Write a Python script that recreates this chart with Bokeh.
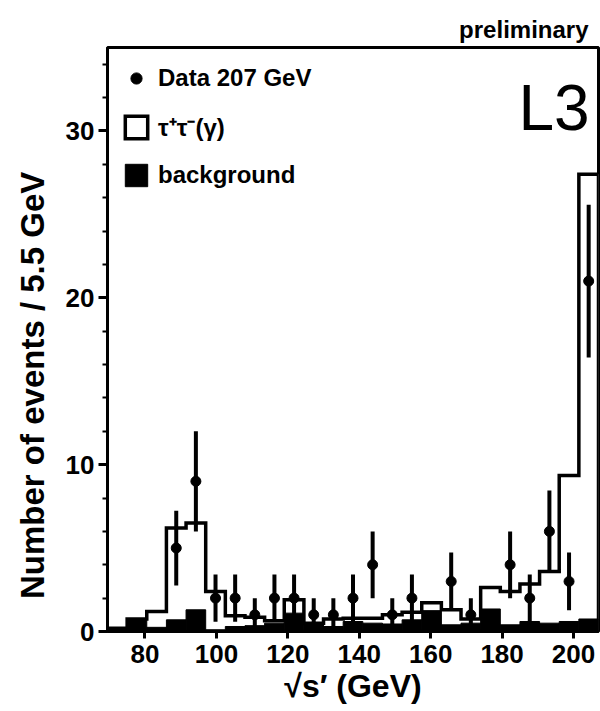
from bokeh.plotting import figure
from bokeh.models import Legend, LegendItem, SingleIntervalTicker, Label
from bokeh.embed import file_html
from bokeh.resources import INLINE

# ---- data ----
bin_edges = [69.5, 75.0, 80.5, 86.0, 91.5, 97.0, 102.5, 108.0, 113.5, 119.0,
             124.5, 130.0, 135.5, 141.0, 146.5, 152.0, 157.5, 163.0, 168.5,
             174.0, 179.5, 185.0, 190.5, 196.0, 201.5, 207.0]
# total expectation tau+tau-(gamma) + background (open histogram)
mc_total = [0.2, 0.75, 1.2, 6.2, 6.5, 2.4, 0.95, 0.85, 0.65, 1.9,
            0.5, 0.75, 0.8, 0.8, 1.0, 1.15, 1.73, 1.3, 0.75, 2.64,
            2.4, 2.84, 3.6, 9.35, 27.4]
# background (filled histogram)
background = [0.2, 0.75, 0.25, 0.7, 1.3, 0.1, 0.3, 0.35, 0.5, 1.1,
              0.4, 0.3, 0.6, 0.5, 0.45, 0.7, 1.25, 0.4, 0.5, 1.35,
              0.4, 0.6, 0.5, 0.6, 0.75]
# data points
data_x = [88.75, 94.25, 99.75, 105.25, 110.75, 116.25, 121.75, 127.25, 132.75,
          138.25, 143.75, 149.25, 154.75, 165.75, 171.25, 182.25, 187.75,
          193.25, 198.75, 204.25]
data_n = [5, 9, 2, 2, 1, 2, 2, 1, 1, 2, 4, 1, 2, 3, 1, 4, 2, 6, 3, 21]
data_err = [2.24, 3.0, 1.41, 1.41, 1.0, 1.41, 1.41, 1.0, 1.0, 1.41, 2.0, 1.0,
            1.41, 1.73, 1.0, 2.0, 1.41, 2.45, 1.73, 4.58]

x_ticks_interval = 20
y_ticks_interval = 10

FONT = "Liberation Sans"

p = figure(width=600, height=711, x_range=(69.5, 207.0), y_range=(0, 35),
           output_backend="svg", toolbar_location=None,
           min_border_left=107, min_border_right=2, min_border_top=47,
           min_border_bottom=80, background_fill_color="white",
           border_fill_color="white")
p.xgrid.visible = False
p.ygrid.visible = False
p.outline_line_color = "black"
p.outline_line_width = 3
p.outline_line_alpha = 1.0

# title "preliminary"
p.title.text = "preliminary"
p.title.align = "right"
p.title.text_font = FONT
p.title.text_font_size = "24px"
p.title.text_font_style = "bold"
p.title.text_color = "black"
p.title.offset = 10
p.title.standoff = 9

# open histogram as a patch
px = [bin_edges[0]]
py = [0.0]
for i, h in enumerate(mc_total):
    px += [bin_edges[i], bin_edges[i + 1]]
    py += [h, h]
px.append(bin_edges[-1])
py.append(0.0)
r_mc = p.patch(px, py, fill_color="white", line_color="black", line_width=3.5,
               line_join="miter")

# background filled histogram
r_bg = p.quad(left=bin_edges[:-1], right=bin_edges[1:], bottom=0, top=background,
              fill_color="black", line_color="black", line_width=1)

# data with error bars
lo = [n - e for n, e in zip(data_n, data_err)]
hi = [n + e for n, e in zip(data_n, data_err)]
p.segment(x0=data_x, y0=lo, x1=data_x, y1=hi, line_color="black", line_width=4)
r_data = p.scatter(data_x, data_n, size=10, marker="circle", fill_color="black",
                   line_color="black")

# axes
for ax in (p.xaxis[0], p.yaxis[0]):
    ax.axis_line_width = 3
    ax.major_tick_line_width = 3
    ax.minor_tick_line_width = 2
    ax.major_tick_in = 0
    ax.minor_tick_in = 0
    ax.major_label_text_font = FONT
    ax.major_label_text_font_style = "bold"
    ax.major_label_text_font_size = "26px"
    ax.major_label_text_color = "black"
    ax.axis_label_text_font = FONT
    ax.axis_label_text_font_style = "bold"
    ax.axis_label_text_color = "black"

p.xaxis.ticker = SingleIntervalTicker(interval=x_ticks_interval, num_minor_ticks=0)
p.yaxis.ticker = SingleIntervalTicker(interval=y_ticks_interval, num_minor_ticks=5)
p.xaxis.major_tick_out = 7
p.yaxis.major_tick_out = 9
p.yaxis.minor_tick_out = 5
p.xaxis.major_label_standoff = 6
p.yaxis.major_label_standoff = 4
p.xaxis.axis_label = "√s′ (GeV)"
p.xaxis.axis_label_text_font_size = "32px"
p.xaxis.axis_label_standoff = 2
# trailing no-break spaces push the title down, as in the reference
p.yaxis.axis_label = "Number of events / 5.5 GeV" + "\u00a0" * 10
p.yaxis.axis_label_text_font_size = "33px"
p.yaxis.axis_label_standoff = 12

# L3 label
p.add_layout(Label(x=204.5, y=31.4, text="L3", text_align="right",
                   text_baseline="alphabetic", text_font=FONT,
                   text_font_size="64px", text_color="black"))

legend = Legend(items=[LegendItem(label="Data 207 GeV", renderers=[r_data]),
                       LegendItem(label="τ⁺τ⁻(γ)", renderers=[r_mc]),
                       LegendItem(label="background", renderers=[r_bg])],
                location=(15, 442), glyph_width=28, glyph_height=28,
                label_height=28, spacing=18, padding=0, margin=0,
                label_standoff=8, label_text_font=FONT,
                label_text_font_style="bold", label_text_font_size="24px",
                label_text_color="black",
                border_line_alpha=0, background_fill_alpha=0)
p.add_layout(legend)

open("out.html", "w").write(file_html(p, INLINE))
